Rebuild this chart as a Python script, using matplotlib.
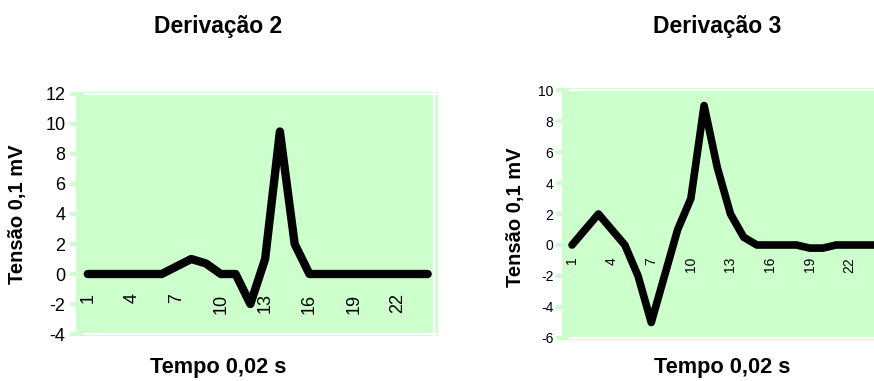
import matplotlib
matplotlib.use('Agg')
import matplotlib.pyplot as plt

plt.rcParams['font.family'] = ['Liberation Sans', 'DejaVu Sans']

# 데이터
amostras = list(range(1, 25))
derivacao_2 = [0, 0, 0, 0, 0, 0, 0.5, 1, 0.7, 0, 0, -2, 1, 9.5, 2, 0,
               0, 0, 0, 0, 0, 0, 0, 0]
derivacao_3 = [0, 1, 2, 1, 0, -2, -5, -2, 1, 3, 9, 5, 2, 0.5, 0, 0,
               0, 0, -0.2, -0.2, 0, 0, 0, 0]
xticks = [1, 4, 7, 10, 13, 16, 19, 22]
yticks_2 = list(range(-4, 13, 2))
yticks_3 = list(range(-6, 11, 2))

W, H = 874, 381
verde = '#ccffcc'


def px_axes(fig, x0, y0, x1, y1):
    # pixel box (top-left origin) -> figure axes
    return fig.add_axes([x0 / W, 1 - y1 / H, (x1 - x0) / W, (y1 - y0) / H])


def desenhar(ax, y, yticks, ylim, xlim, lw, fs_tick, pad_y, pad_x):
    ax.set_facecolor(verde)
    for s in ax.spines.values():
        s.set_visible(False)
    ax.spines['bottom'].set_position(('data', 0))
    ax.set_xlim(*xlim)
    ax.set_ylim(*ylim)
    # moldura branca da área de plotagem
    ax.axhline(yticks[-1], xmin=0.025, xmax=1, color='white', lw=1.6, zorder=1)
    ax.axhline(yticks[0], xmin=0.025, xmax=1, color='white', lw=1.6, zorder=1)
    ax.axvline(24.4, color='white', lw=1.6, zorder=1)
    ax.plot(amostras, y, color='black', lw=lw, solid_joinstyle='round',
            solid_capstyle='round', zorder=3)
    ax.set_yticks(yticks)
    ax.set_yticklabels([str(v) for v in yticks])
    ax.set_xticks(xticks)
    ax.set_xticklabels([str(v) for v in xticks], rotation=90)
    ax.tick_params(axis='y', colors=verde, length=4, width=3, pad=pad_y,
                   labelcolor='black', labelsize=fs_tick)
    ax.tick_params(axis='x', length=0, pad=pad_x, labelsize=fs_tick)


fig = plt.figure(figsize=(W / 100, H / 100), dpi=100)

ax1 = px_axes(fig, 76, 92, 438, 336)
desenhar(ax1, derivacao_2, yticks_2, (-4.133, 12.133), (0.2, 24.7),
         6, 13, 3.6, 14)

ax2 = px_axes(fig, 562, 88, 885, 340)
desenhar(ax2, derivacao_3, yticks_3, (-6.13, 10.13), (0.24, 24.7),
         5.5, 10, 2.2, 8.5)

# títulos e rótulos dos eixos
fig.text(218 / W, 1 - 26 / H, 'Derivação 2', ha='center', va='center',
         fontsize=16.5, fontweight='bold')
fig.text(717 / W, 1 - 26 / H, 'Derivação 3', ha='center', va='center',
         fontsize=16.5, fontweight='bold')
fig.text(18 / W, 1 - 214 / H, 'Tensão 0,1 mV', ha='center', va='center',
         rotation=90, fontsize=14.5, fontweight='bold')
fig.text(515 / W, 1 - 217 / H, 'Tensão 0,1 mV', ha='center', va='center',
         rotation=90, fontsize=14.5, fontweight='bold')
fig.text(218 / W, 1 - 368 / H, 'Tempo 0,02 s', ha='center', va='center',
         fontsize=15.7, fontweight='bold')
fig.text(722 / W, 1 - 368 / H, 'Tempo 0,02 s', ha='center', va='center',
         fontsize=15.7, fontweight='bold')

fig.savefig('out.png', dpi=100)
